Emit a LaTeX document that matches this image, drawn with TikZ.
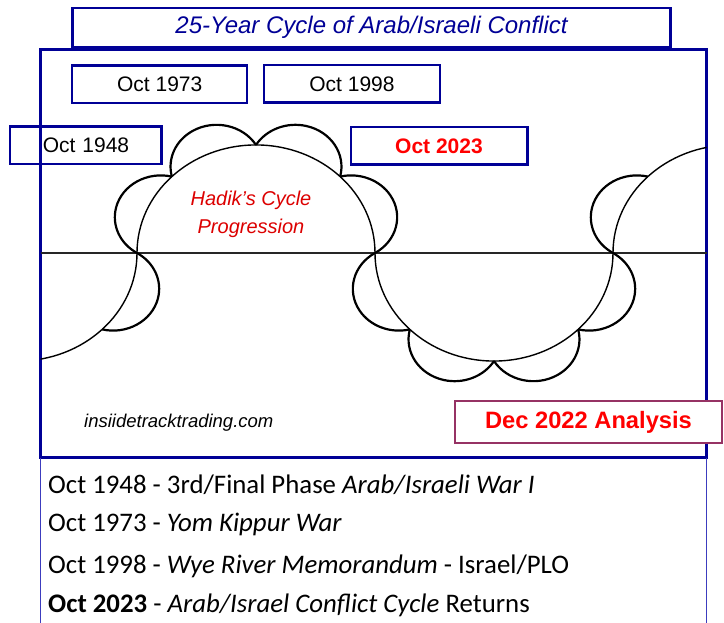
\documentclass[tikz,border=0pt]{standalone}
\usepackage{fontspec}
\setmainfont{Liberation Sans}
\newfontfamily\listfont{Carlito}
\definecolor{frameblue}{RGB}{0,0,150}
\definecolor{brightred}{RGB}{255,0,0}
\definecolor{labelred}{RGB}{220,0,0}
\definecolor{plum}{RGB}{150,50,100}
\definecolor{listrule}{RGB}{60,60,190}

% one scallop on a big circle: centre #1, direction #2 (degrees)
\newcommand\scallopat[2]{%
  \draw[scallop] (#1) ++(#2:102.94) ++({#2-81.26}:46.07)
    arc[start angle={#2-81.26}, end angle={#2+81.26}, radius=46.07];}

\begin{document}
\begin{tikzpicture}[x=1pt,y=-1pt,
  frame/.style={draw=frameblue, line width=2.5pt},
  datebox/.style={frame, inner sep=0pt, minimum height=37.5pt,
    font=\fontsize{21}{24}\selectfont},
  wave/.style={line width=1.4pt, black},
  scallop/.style={line width=2.2pt, black},
  axisline/.style={line width=1.5pt, black!85},
  listline/.style={anchor=base west, inner sep=0pt,
    font=\listfont\fontsize{26.8}{30}\selectfont}]
\useasboundingbox (0,0) rectangle (724,623);

% title banner
\node[frame, minimum width=598pt, minimum height=39.5pt, inner sep=0pt,
  text=frameblue, font=\fontsize{24}{28}\selectfont\itshape]
  (title) at (371.5,27.7) {25-Year Cycle of Arab/Israeli Conflict};

% chart panel and the list area below it
\draw[frame] (40.5,49.3) rectangle (706.7,457.5);
\draw[listrule, line width=1.4pt] (40.5,457.5) -- (40.5,623);
\draw[listrule, line width=1.4pt] (706.7,457.5) -- (706.7,623);

% cycle curve
\draw[axisline] (40.5,253) -- (706.7,253);
\begin{scope}
  \clip (40.5,49.3) rectangle (706.7,457.5);
  \begin{scope}[shift={(0,253)}]
  \begin{scope}[yscale=-0.908]
    \coordinate (c0) at (18,0);
    \coordinate (c1) at (256,0);
    \coordinate (c2) at (494,0);
    \coordinate (c3) at (732,0);
    \draw[wave] (-101,0) arc[start angle=180, end angle=360, radius=119];
    \draw[wave] (137,0) arc[start angle=180, end angle=0, radius=119];
    \draw[wave] (375,0) arc[start angle=180, end angle=360, radius=119];
    \draw[wave] (613,0) arc[start angle=180, end angle=90, radius=119];
    \scallopat{c0}{337.5}
    \scallopat{c1}{157.5}
    \scallopat{c1}{112.5}
    \scallopat{c1}{67.5}
    \scallopat{c1}{22.5}
    \scallopat{c2}{202.5}
    \scallopat{c2}{247.5}
    \scallopat{c2}{292.5}
    \scallopat{c2}{337.5}
    \scallopat{c3}{157.5}
  \end{scope}
  \end{scope}
\end{scope}

% date boxes
\node[datebox, minimum width=175pt] (d1973) at (159.7,84.3) {Oct 1973};
\node[datebox, minimum width=176pt] (d1998) at (352,84) {Oct 1998};
\node[datebox, text width=151.5pt, align=left] (d1948) at (85.8,145.5)
  {\hspace*{32.7pt}Oct 1948};
\node[datebox, minimum width=176.5pt, text=brightred, font=\fontsize{21}{24}\selectfont\bfseries]
  (d2023) at (439,145.8) {Oct 2023};

% labels inside the panel
\node[text=labelred, align=center, inner sep=0pt,
  font=\fontsize{20}{28}\selectfont\itshape] (hadik) at (251,214.5)
  {Hadik’s Cycle\\Progression};
\node[anchor=west, inner sep=0pt, font=\fontsize{18.5}{22}\selectfont\itshape]
  (site) at (84,422.5) {insiidetracktrading.com};
\node[draw=plum, line width=2.2pt, fill=white, minimum width=267pt,
  minimum height=42pt, inner sep=0pt, text=brightred,
  font=\fontsize{23.7}{28}\selectfont\bfseries] (stamp) at (588.5,422.2)
  {Dec 2022 Analysis};

% event list
\node[listline] (e1) at (48,493) {Oct 1948 - 3rd/Final Phase \textit{Arab/Israeli War I}};
\node[listline] (e2) at (48,531.5) {Oct 1973 - \textit{Yom Kippur War}};
\node[listline] (e3) at (48,573) {Oct 1998 - \textit{Wye River Memorandum} - Israel/PLO};
\node[listline] (e4) at (48,612) {\textbf{Oct 2023} - \textit{Arab/Israel Conflict Cycle} Returns};
\end{tikzpicture}
\end{document}
